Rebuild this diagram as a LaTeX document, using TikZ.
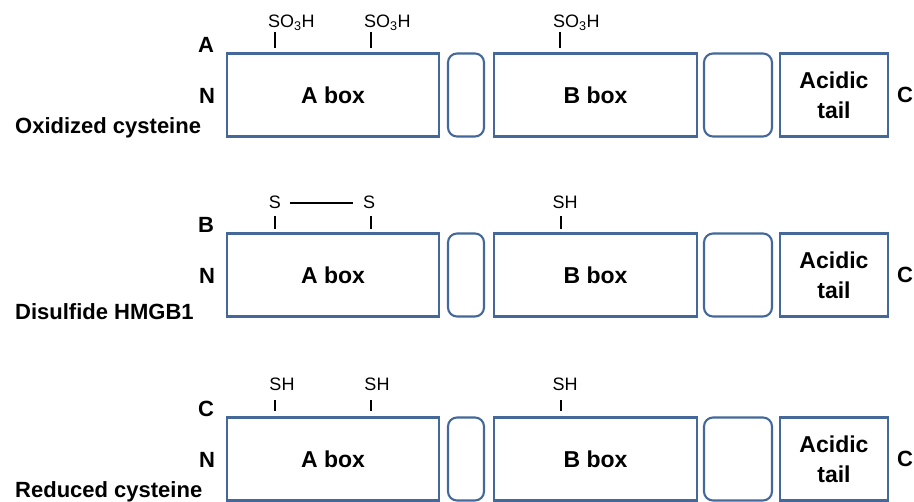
\documentclass[tikz,border=0pt]{standalone}
\usepackage{fontspec}
\setmainfont{Liberation Sans}
\definecolor{boxblue}{HTML}{44689A}
\begin{document}
\begin{tikzpicture}[x=1pt,y=-1pt,
  dom/.style={draw=boxblue, line width=2.1pt, minimum height=83pt, inner sep=0pt},
  link/.style={dom, rounded corners=9pt},
  lbl/.style={font=\bfseries\fontsize{23}{27}\selectfont, align=center},
  side/.style={font=\bfseries\fontsize{22}{24}\selectfont, inner sep=0pt},
  chem/.style={font=\fontsize{18}{20}\selectfont, inner sep=0pt},
  tick/.style={line width=2pt}]
\useasboundingbox (0,0) rectangle (914,502);
\foreach \rw/\tp/\ltr in {a/53/A, b/233/B, c/417/C}{
  \node[dom, minimum width=212pt, lbl] (abox\rw) at (333,\tp+42) {A box};
  \node[link, minimum width=36pt] (l1\rw) at (466,\tp+42) {};
  \node[dom, minimum width=203pt, lbl] (bbox\rw) at (595.5,\tp+42) {B box};
  \node[link, minimum width=68pt] (l2\rw) at (738,\tp+42) {};
  \node[dom, minimum width=108pt, lbl] (tail\rw) at (834,\tp+42) {Acidic\\[3pt]tail};
  \node[side] (c\rw) at (905,\tp+42) {C};
  \node[side] (n\rw) at (207,\tp+43) {N};
  \node[side] (let\rw) at (206,\tp-8) {\ltr};
}
\node[side, anchor=west] (capa) at (15,128) {Oxidized cysteine};
\node[side, anchor=west] (capb) at (15,312) {Disulfide HMGB1};
\node[side, anchor=west] (capc) at (15,492) {Reduced cysteine};
% row A
\node[chem, anchor=base west] (so1) at (268,28) {SO\textsubscript{3}H};
\node[chem, anchor=base west] (so2) at (364,28) {SO\textsubscript{3}H};
\node[chem, anchor=base west] (so3) at (553,28) {SO\textsubscript{3}H};
\draw[tick] (275,32) coordinate (ta1) -- (275,48) coordinate (ta1e);
\draw[tick] (371,32) coordinate (ta2) -- (371,48) coordinate (ta2e);
\draw[tick] (560,32) coordinate (ta3) -- (560,48) coordinate (ta3e);
% row B
\node[chem, anchor=base] (s1) at (275,209) {S};
\node[chem, anchor=base] (s2) at (369,209) {S};
\node[chem, anchor=base] (shb) at (565,209) {SH};
\draw[line width=1.5pt, shorten <=9pt, shorten >=10pt] (s1) -- (s2);
\draw[tick] (275,216) coordinate (tb1) -- (275,229) coordinate (tb1e);
\draw[tick] (371,216) coordinate (tb2) -- (371,229) coordinate (tb2e);
\draw[tick] (561,216) coordinate (tb3) -- (561,229) coordinate (tb3e);
% row C
\node[chem, anchor=base] (sh1) at (282,391) {SH};
\node[chem, anchor=base] (sh2) at (377,391) {SH};
\node[chem, anchor=base] (sh3) at (565,391) {SH};
\draw[tick] (275,400) coordinate (tc1) -- (275,411) coordinate (tc1e);
\draw[tick] (371,400) coordinate (tc2) -- (371,411) coordinate (tc2e);
\draw[tick] (561,400) coordinate (tc3) -- (561,411) coordinate (tc3e);
\end{tikzpicture}
\end{document}
